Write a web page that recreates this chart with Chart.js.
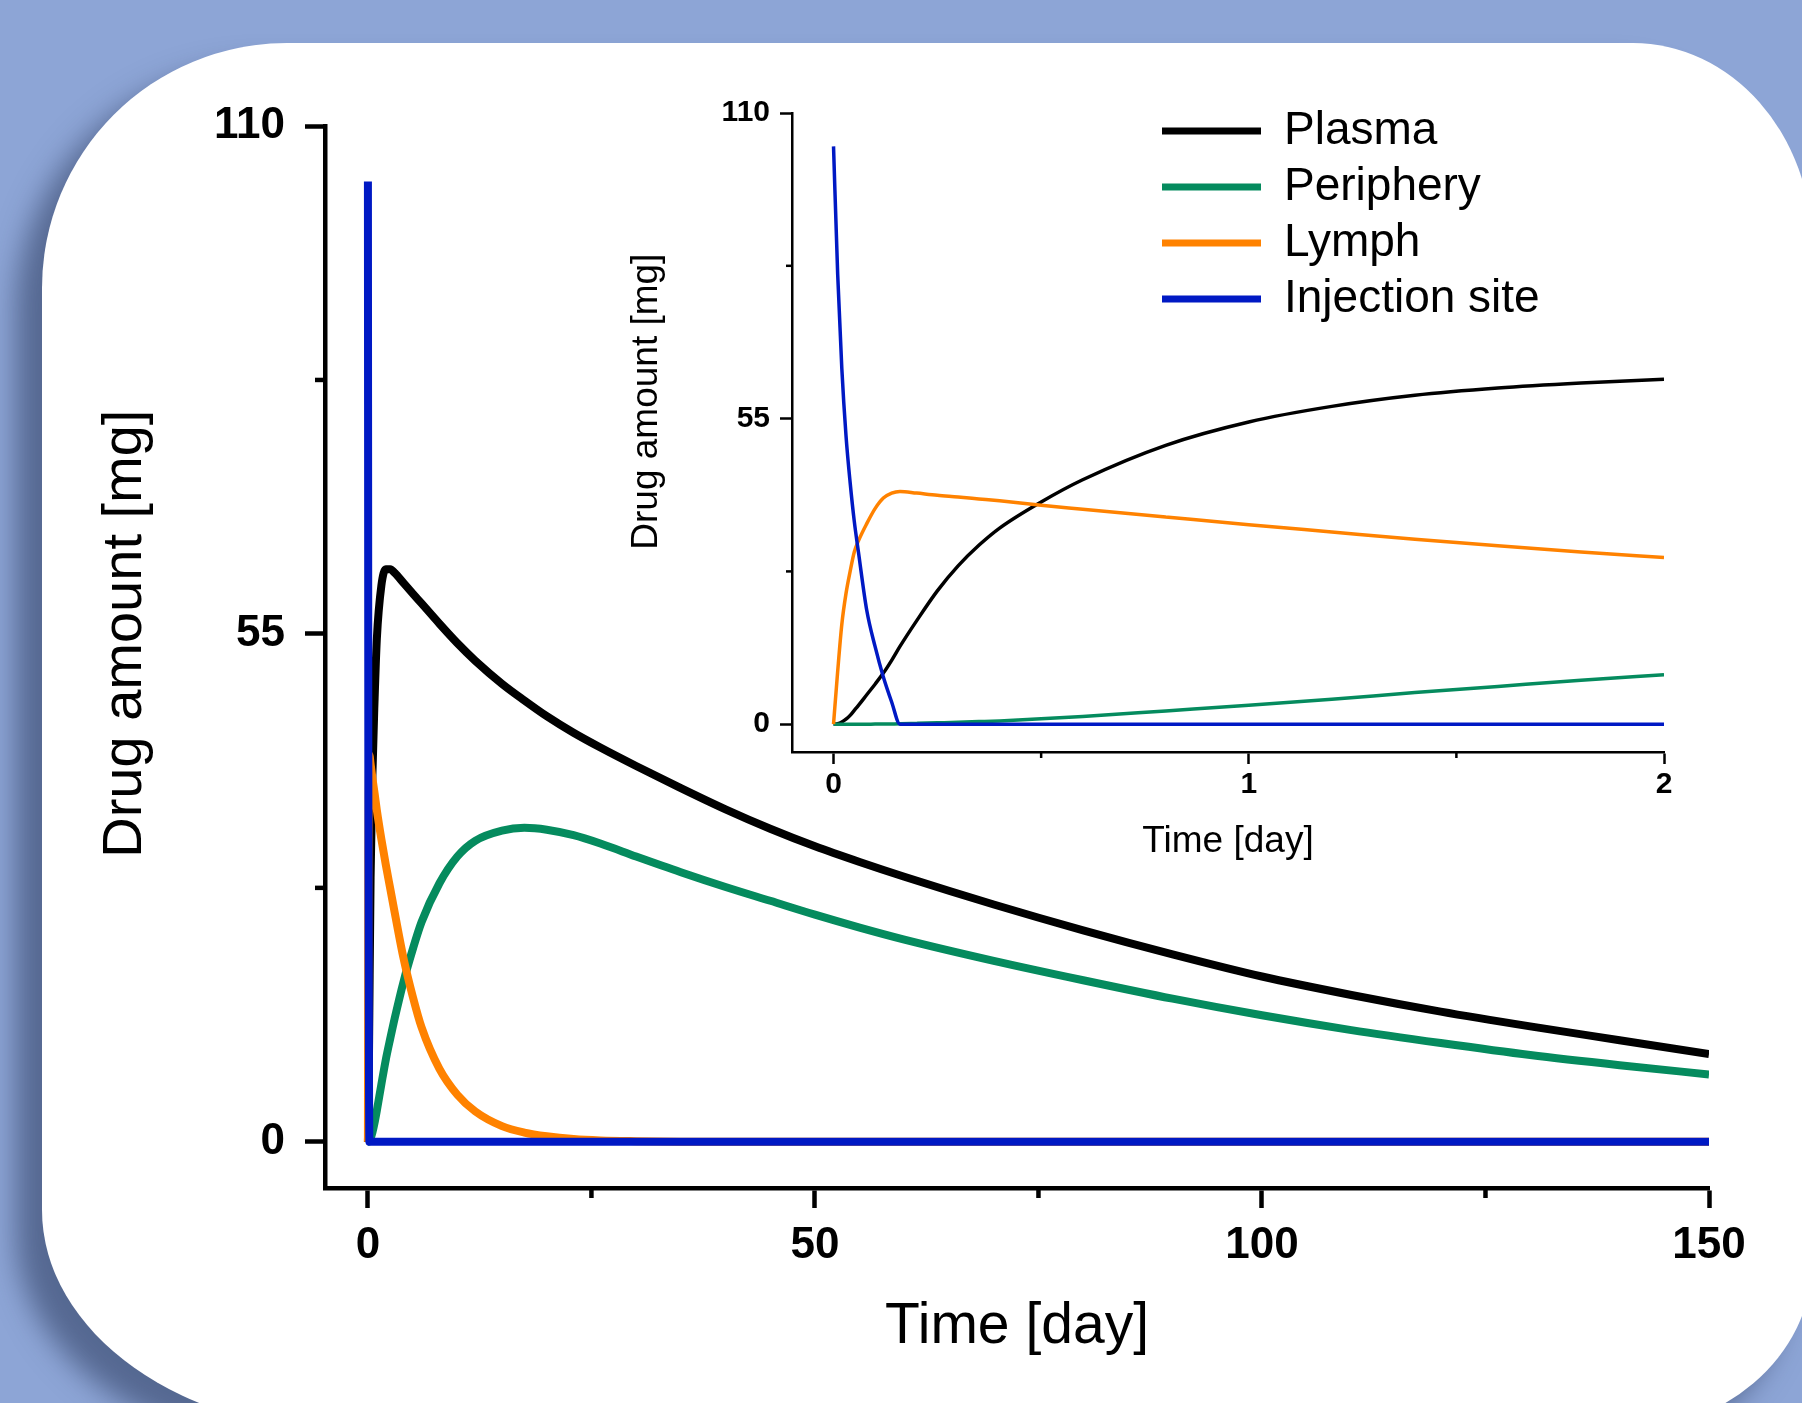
<!DOCTYPE html>
<html>
<head>
<meta charset="utf-8">
<title>Drug amount</title>
<script src="https://cdn.jsdelivr.net/npm/chart.js"></script>
<style>
    html, body { margin: 0; padding: 0; }
    body { width: 1802px; height: 1403px; overflow: hidden; background: #8da5d6; position: relative; }
    #panel {
        position: absolute; left: 42px; top: 43px; width: 1770px; height: 1390px; background: #fff;
        border-radius: 245px 179px 200px 315px / 245px 203px 170px 223px;
        box-shadow: -26px 24px 28px rgba(40, 55, 90, 0.55);
    }
    .box { position: absolute; }
    #mainBox { left: 0; top: 0; width: 1802px; height: 1403px; }
    #insetBox { left: 560px; top: 60px; width: 1200px; height: 860px; }
    #legendBox { left: 1152px; top: 98px; width: 900px; height: 260px; }
</style>
</head>
<body>
<div id="panel"></div>
<div class="box" id="mainBox"><canvas id="mainChart"></canvas></div>
<div class="box" id="insetBox"><canvas id="insetChart"></canvas></div>
<div class="box" id="legendBox"><canvas id="legendChart"></canvas></div>

<script>
const seriesNames = ['Plasma', 'Periphery', 'Lymph', 'Injection site'];
const seriesColors = ['#000000', '#058b5e', '#ff8200', '#0019c4'];

// main panel (0 - 150 days)
const mainTime = [0, 0.05, 0.1, 0.16, 0.3, 0.5, 0.75, 1, 1.5, 2, 2.5, 3, 4, 5, 6, 8, 10, 12, 15, 17.5,
    20, 23, 26, 30, 35, 40, 45, 50, 55, 60, 70, 80, 90, 100, 110, 120, 130, 140, 150];
const mainPlasma = [0, 2.8, 7.2, 14, 28.6, 39.6, 48, 54.5, 60.2, 62.0, 62.0, 61.6, 60.5, 59.4, 58.3, 56.1, 54.0, 52.1, 49.6, 47.8,
    46.1, 44.3, 42.7, 40.7, 38.3, 36.0, 33.9, 32.0, 30.3, 28.7, 25.7, 22.9, 20.3, 17.9, 15.9, 14.1, 12.5, 11.0, 9.5];
const mainPeriphery = [0, 0, 0.02, 0.07, 0.35, 1.0, 2.1, 3.4, 6.2, 8.9, 11.2, 13.4, 17.4, 20.8, 23.8, 28.0, 30.9, 32.6, 33.7, 34.0,
    33.8, 33.2, 32.3, 30.9, 29.2, 27.6, 26.1, 24.6, 23.2, 21.9, 19.6, 17.5, 15.5, 13.7, 12.1, 10.7, 9.4, 8.3, 7.3];
const mainLymph = [0, 31, 38.8, 41.9, 40.9, 39.4, 37.7, 35.9, 32.8, 30.0, 27.4, 24.8, 19.8, 15.8, 12.4, 7.9, 5.1, 3.3, 1.7, 1.0,
    0.6, 0.3, 0.15, 0.07, 0.02, 0, 0, 0, 0, 0, 0, 0, 0, 0, 0, 0, 0, 0, 0];
const mainInjection = [104, 36.5, 14, 0, 0, 0, 0, 0, 0, 0, 0, 0, 0, 0, 0, 0, 0, 0, 0, 0,
    0, 0, 0, 0, 0, 0, 0, 0, 0, 0, 0, 0, 0, 0, 0, 0, 0, 0, 0];
const mainXTicks = [0, 50, 100, 150];
const mainXMinor = [25, 75, 125];
const mainYTicks = [0, 55, 110];
const mainYMinor = [27.5, 82.5];

// inset (first 2 days)
const insetTime = [0, 0.01, 0.02, 0.03, 0.04, 0.05, 0.06, 0.08, 0.1, 0.12, 0.14, 0.16, 0.2, 0.25, 0.3,
    0.35, 0.4, 0.5, 0.6, 0.8, 1.0, 1.2, 1.4, 1.6, 1.8, 2.0];
const insetPlasma = [0, 0.1, 0.4, 0.9, 1.6, 2.5, 3.4, 5.3, 7.2, 9.2, 11.5, 14.0, 18.6, 24.0, 28.5,
    32.2, 35.3, 40.0, 44.0, 50.2, 54.4, 57.2, 59.2, 60.5, 61.4, 62.1];
const insetPeriphery = [0, 0, 0, 0, 0, 0, 0, 0.01, 0.02, 0.03, 0.05, 0.07, 0.15, 0.25, 0.35,
    0.47, 0.6, 1.0, 1.4, 2.4, 3.4, 4.5, 5.7, 6.8, 7.9, 8.9];
const insetLymph = [0, 9.5, 18, 23.5, 27.5, 31, 33, 36.1, 38.8, 40.7, 41.6, 41.9, 41.6, 41.2, 40.9,
    40.55, 40.2, 39.4, 38.7, 37.3, 35.9, 34.6, 33.3, 32.1, 31.0, 30.0];
const insetInjection = [104, 81, 64, 52, 43.5, 36.5, 31, 20.5, 14, 8.5, 4, 0, 0, 0, 0,
    0, 0, 0, 0, 0, 0, 0, 0, 0, 0, 0];
const insetXTicks = [0, 1, 2];
const insetXMinor = [0.5, 1.5];
const insetYTicks = [0, 55, 110];
const insetYMinor = [27.5, 82.5];

Chart.defaults.font.family = "'Liberation Sans', Arial, sans-serif";
Chart.defaults.color = '#000';

function toPoints(xs, ys) {
    return xs.map((x, i) => ({x: x, y: ys[i]}));
}

function makeDatasets(time, seriesList, width) {
    // later series are drawn on top (injection site over the rest)
    return seriesList.map((values, i) => ({
        label: seriesNames[i],
        data: toPoints(time, values),
        borderColor: seriesColors[i],
        backgroundColor: seriesColors[i],
        borderWidth: width,
        pointRadius: 0,
        fill: false,
        cubicInterpolationMode: 'monotone',
        order: seriesList.length - i
    }));
}

function makeScale(cfg) {
    return {
        type: 'linear',
        position: cfg.position,
        min: cfg.min,
        max: cfg.max,
        afterBuildTicks: (scale) => { scale.ticks = cfg.ticks.map(v => ({value: v})); },
        afterFit: (scale) => {
            if (cfg.width) scale.width = cfg.width;
            if (cfg.height) scale.height = cfg.height;
        },
        border: {display: true, color: '#000', width: cfg.lineWidth},
        grid: {drawOnChartArea: false, tickLength: cfg.tickLength, tickWidth: cfg.lineWidth, tickColor: '#000'},
        ticks: {padding: cfg.padding, autoSkip: false, maxRotation: 0, color: '#000',
            font: {size: cfg.tickSize, weight: 'bold'}},
        title: {display: true, text: cfg.title, color: '#000', font: {size: cfg.titleSize}, padding: cfg.titlePadding}
    };
}

// short unlabeled ticks between the major ones
function minorTicks(id, xVals, yVals, len, width) {
    return {
        id: id,
        afterDraw(chart) {
            const {ctx, chartArea, scales} = chart;
            ctx.save();
            ctx.strokeStyle = '#000';
            ctx.lineWidth = width;
            for (let v of xVals) {
                const px = scales.x.getPixelForValue(v);
                ctx.beginPath();
                ctx.moveTo(px, chartArea.bottom);
                ctx.lineTo(px, chartArea.bottom + len);
                ctx.stroke();
            }
            for (let v of yVals) {
                const py = scales.y.getPixelForValue(v);
                ctx.beginPath();
                ctx.moveTo(chartArea.left, py);
                ctx.lineTo(chartArea.left - len, py);
                ctx.stroke();
            }
            ctx.restore();
        }
    };
}

const baseOptions = {
    responsive: true,
    maintainAspectRatio: false,
    animation: false,
    events: [],
    plugins: {legend: {display: false}, tooltip: {enabled: false}}
};

// main chart (leading spaces lift the y title a little above the axis middle, as in the figure)
new Chart(document.getElementById('mainChart'), {
    type: 'line',
    data: {datasets: makeDatasets(mainTime, [mainPlasma, mainPeriphery, mainLymph, mainInjection], 8)},
    options: Object.assign({}, baseOptions, {
        layout: {padding: {left: 0, right: 93, top: 126, bottom: 0}},
        scales: {
            x: makeScale({position: 'bottom', min: -4.8, max: 150, ticks: mainXTicks, height: 215,
                lineWidth: 4.5, tickLength: 20, padding: 11, tickSize: 44,
                title: 'Time [day]', titleSize: 57, titlePadding: {top: 0, bottom: 42}}),
            y: makeScale({position: 'left', min: -5, max: 110, ticks: mainYTicks, width: 325,
                lineWidth: 4.5, tickLength: 20, padding: 20, tickSize: 44,
                title: '   Drug amount [mg]', titleSize: 56, titlePadding: {top: 92, bottom: 0}})
        }
    }),
    plugins: [minorTicks('mainMinor', mainXMinor, mainYMinor, 10, 4.5)]
});

// inset chart
new Chart(document.getElementById('insetChart'), {
    type: 'line',
    data: {datasets: makeDatasets(insetTime, [insetPlasma, insetPeriphery, insetLymph, insetInjection], 3.5)},
    options: Object.assign({}, baseOptions, {
        layout: {padding: {left: 0, right: 96, top: 53, bottom: 0}},
        scales: {
            x: makeScale({position: 'bottom', min: -0.1, max: 2, ticks: insetXTicks, height: 168,
                lineWidth: 2.5, tickLength: 12, padding: 3, tickSize: 30,
                title: 'Time [day]', titleSize: 37, titlePadding: {top: 0, bottom: 56}}),
            y: makeScale({position: 'left', min: -5, max: 110, ticks: insetYTicks, width: 232,
                lineWidth: 2.5, tickLength: 12, padding: 10, tickSize: 30,
                title: '      Drug amount [mg]', titleSize: 37, titlePadding: {top: 65, bottom: 0}})
        }
    }),
    plugins: [minorTicks('insetMinor', insetXMinor, insetYMinor, 6, 2.5)]
});

// legend
new Chart(document.getElementById('legendChart'), {
    type: 'line',
    data: {
        datasets: seriesNames.map((name, i) => ({
            label: name, data: [], borderColor: seriesColors[i], backgroundColor: seriesColors[i], borderWidth: 7
        }))
    },
    options: {
        responsive: true,
        maintainAspectRatio: false,
        animation: false,
        events: [],
        scales: {x: {display: false}, y: {display: false}},
        plugins: {
            tooltip: {enabled: false},
            legend: {
                position: 'left',
                align: 'start',
                labels: {usePointStyle: true, pointStyle: 'line', pointStyleWidth: 99, padding: 10,
                    color: '#000', font: {size: 46}}
            }
        }
    }
});
</script>
</body>
</html>
